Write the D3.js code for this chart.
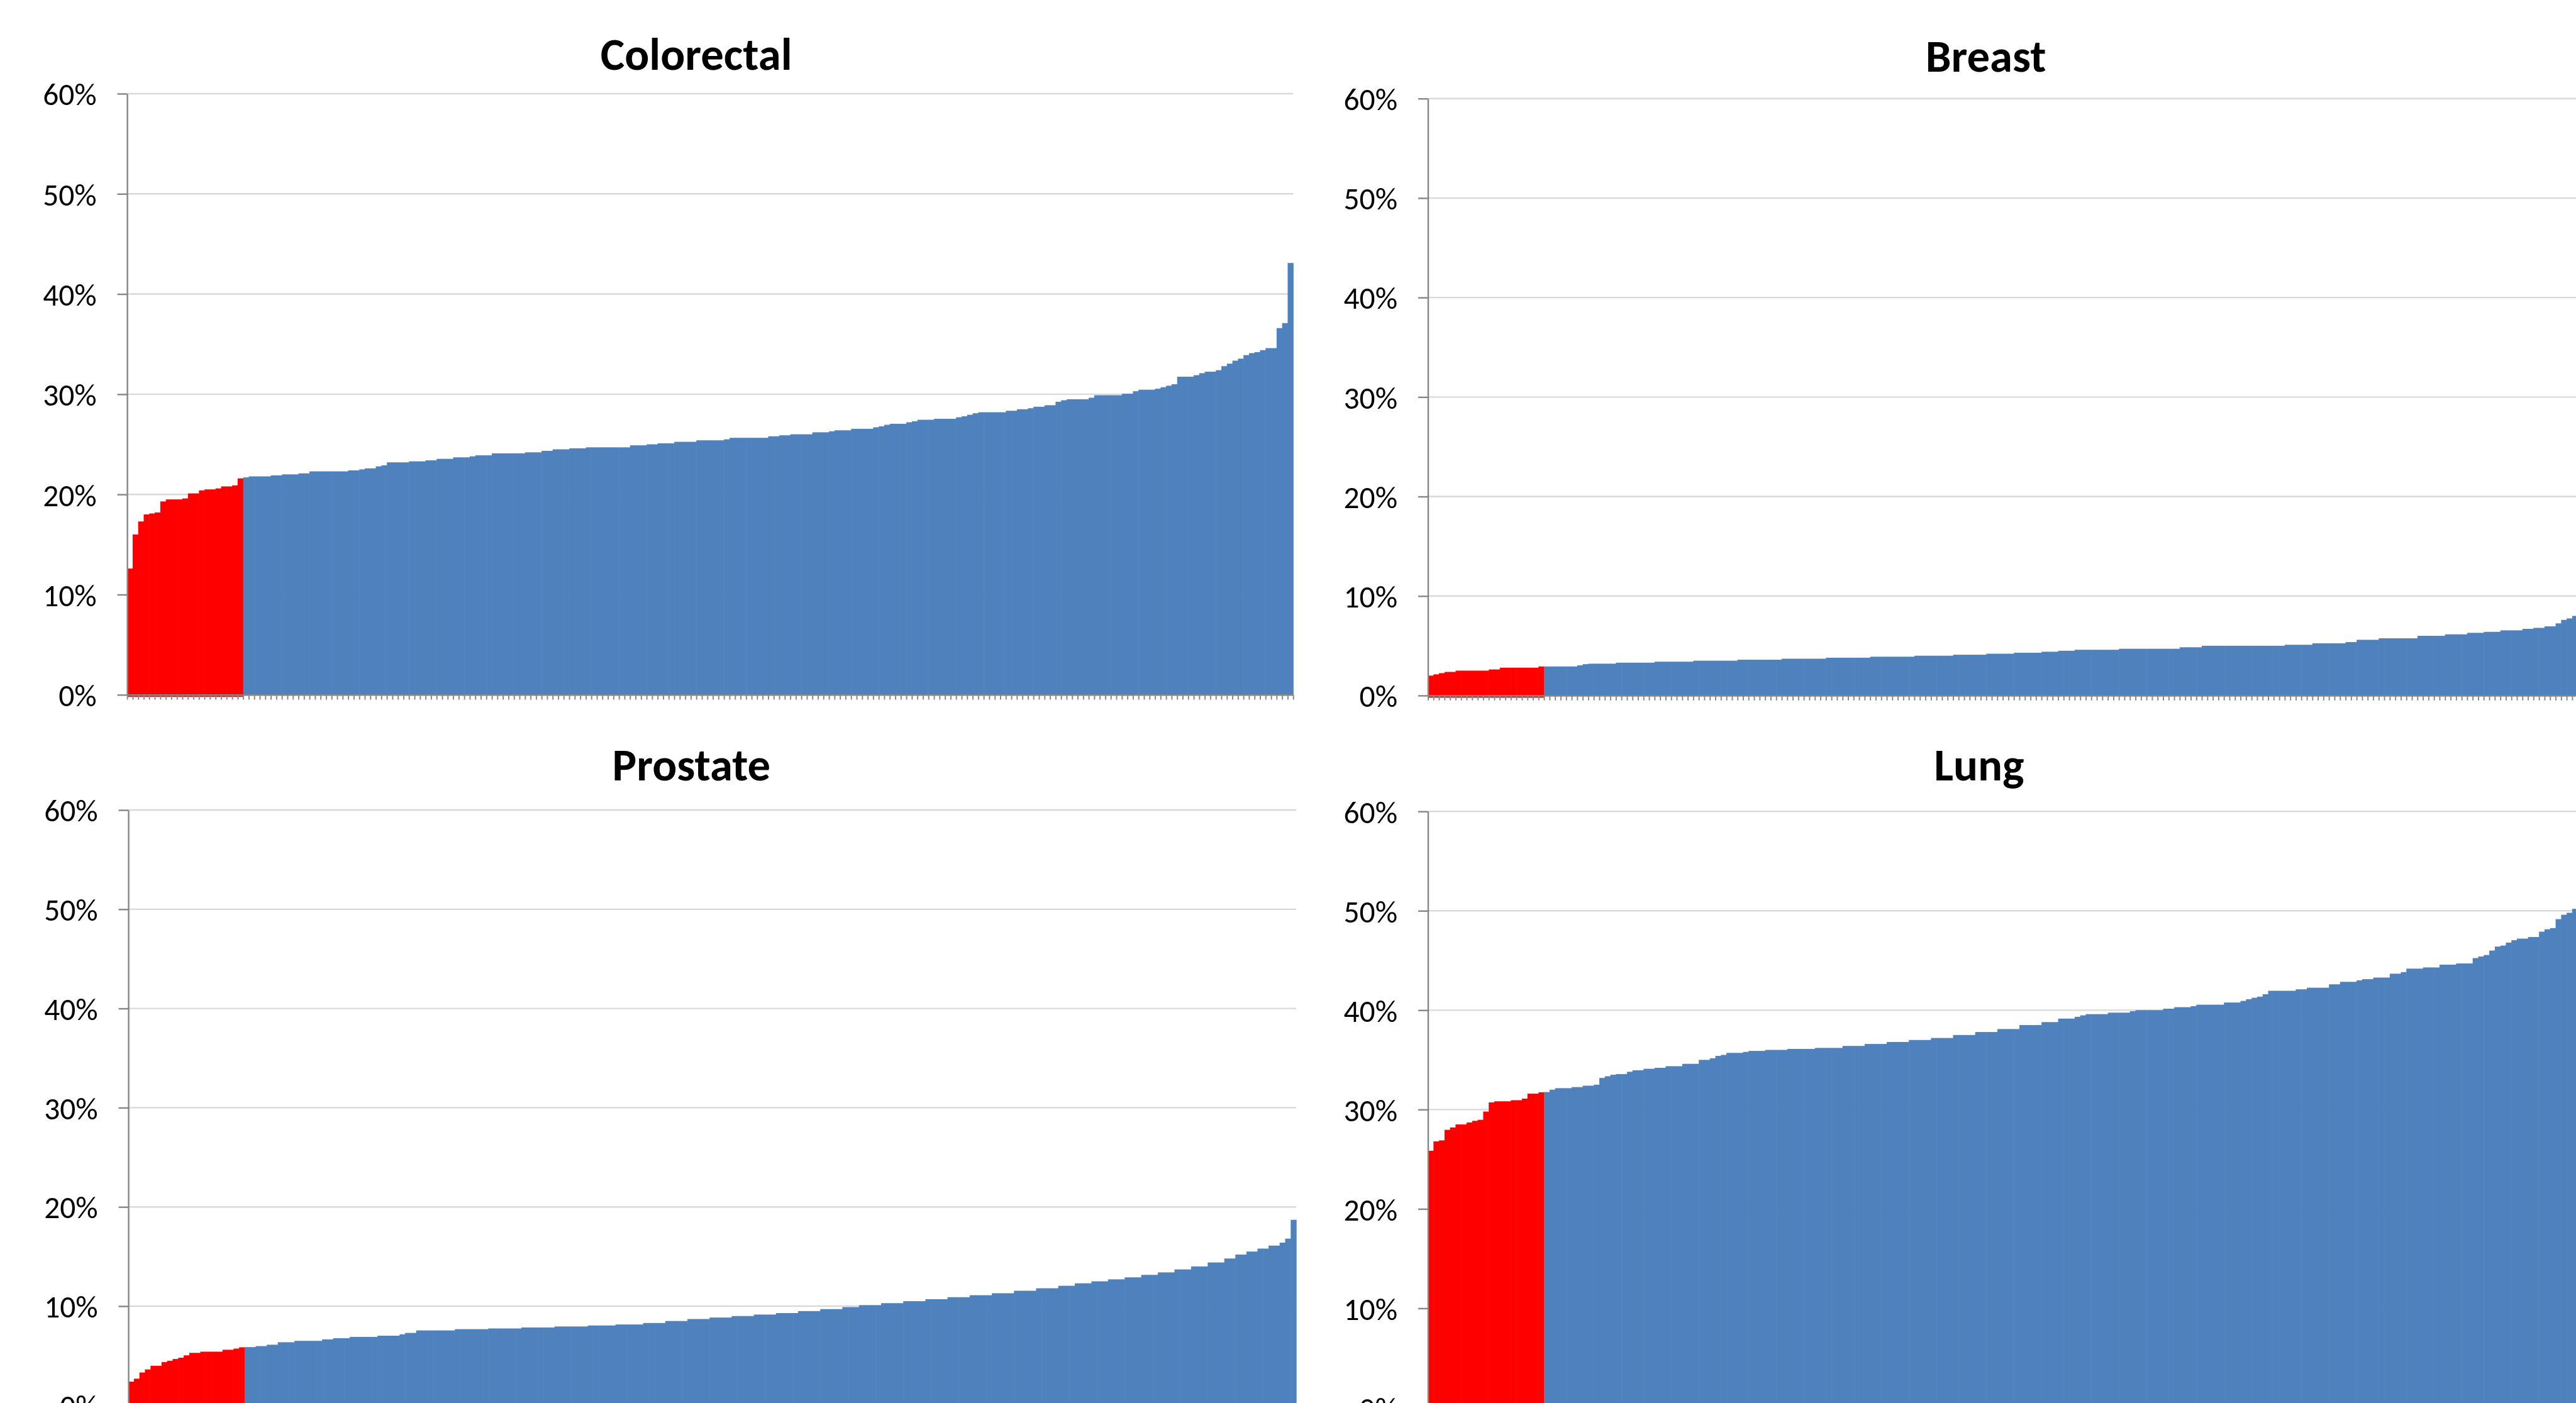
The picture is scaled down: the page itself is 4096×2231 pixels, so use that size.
<!DOCTYPE html>
<html>
<head>
<meta charset="utf-8">
<script src="https://cdn.jsdelivr.net/npm/d3@7"></script>
<style>
  html, body { margin: 0; padding: 0; background: #ffffff; overflow: hidden; }
  svg { display: block; }
</style>
</head>
<body>
<svg id="chart"></svg>
<script>
// Share of patients per area, sorted from lowest to highest (percent)
const colorectal = [
  12.6, 16.0, 17.3, 18.0, 18.1, 18.2, 19.3, 19.5, 19.5, 19.5,
  19.6, 20.1, 20.1, 20.4, 20.5, 20.5, 20.6, 20.8, 20.8, 20.9,
  21.6, 21.7, 21.8, 21.8, 21.8, 21.8, 21.9, 21.9, 22.0, 22.0,
  22.0, 22.1, 22.1, 22.3, 22.3, 22.3, 22.3, 22.3, 22.3, 22.3,
  22.4, 22.4, 22.5, 22.6, 22.6, 22.8, 22.9, 23.2, 23.2, 23.2,
  23.2, 23.3, 23.3, 23.3, 23.4, 23.4, 23.55, 23.55, 23.55, 23.7,
  23.7, 23.7, 23.8, 23.9, 23.9, 23.9, 24.1, 24.1, 24.1, 24.1,
  24.1, 24.1, 24.2, 24.2, 24.2, 24.35, 24.35, 24.5, 24.5, 24.5,
  24.6, 24.6, 24.6, 24.7, 24.7, 24.7, 24.7, 24.7, 24.7, 24.7,
  24.7, 24.9, 24.9, 24.9, 25.0, 25.0, 25.1, 25.1, 25.1, 25.25,
  25.25, 25.25, 25.25, 25.4, 25.4, 25.4, 25.4, 25.4, 25.5, 25.65,
  25.65, 25.65, 25.65, 25.65, 25.65, 25.65, 25.8, 25.8, 25.9, 25.9,
  26.0, 26.0, 26.0, 26.0, 26.2, 26.2, 26.2, 26.3, 26.4, 26.4,
  26.4, 26.55, 26.55, 26.55, 26.55, 26.7, 26.8, 26.95, 27.05, 27.05,
  27.05, 27.2, 27.3, 27.45, 27.45, 27.45, 27.55, 27.55, 27.55, 27.55,
  27.7, 27.8, 27.95, 28.1, 28.2, 28.2, 28.2, 28.2, 28.2, 28.35,
  28.35, 28.5, 28.5, 28.6, 28.75, 28.75, 28.9, 28.9, 29.25, 29.4,
  29.5, 29.5, 29.5, 29.5, 29.65, 29.9, 29.9, 29.9, 29.9, 29.9,
  30.05, 30.05, 30.3, 30.45, 30.45, 30.45, 30.55, 30.7, 30.85, 31.0,
  31.75, 31.75, 31.75, 31.9, 32.1, 32.25, 32.25, 32.4, 32.8, 33.05,
  33.35, 33.55, 33.9, 34.1, 34.2, 34.4, 34.6, 34.6, 36.6, 37.1,
  43.1
];

const breast = [
  2.0, 2.13, 2.25, 2.37, 2.37, 2.5, 2.5, 2.5, 2.5, 2.5,
  2.5, 2.62, 2.62, 2.8, 2.8, 2.8, 2.8, 2.8, 2.8, 2.8,
  2.92, 2.92, 2.92, 2.92, 2.92, 2.92, 2.92, 3.03, 3.15, 3.2,
  3.2, 3.2, 3.2, 3.2, 3.3, 3.3, 3.3, 3.3, 3.3, 3.3,
  3.3, 3.4, 3.4, 3.4, 3.4, 3.4, 3.4, 3.4, 3.5, 3.5,
  3.5, 3.5, 3.5, 3.5, 3.5, 3.5, 3.6, 3.6, 3.6, 3.6,
  3.6, 3.6, 3.6, 3.6, 3.7, 3.7, 3.7, 3.7, 3.7, 3.7,
  3.7, 3.7, 3.8, 3.8, 3.8, 3.8, 3.8, 3.8, 3.8, 3.8,
  3.9, 3.9, 3.9, 3.9, 3.9, 3.9, 3.9, 3.9, 4.0, 4.0,
  4.0, 4.0, 4.0, 4.0, 4.0, 4.1, 4.1, 4.1, 4.1, 4.1,
  4.1, 4.2, 4.2, 4.2, 4.2, 4.2, 4.3, 4.3, 4.3, 4.3,
  4.3, 4.4, 4.4, 4.4, 4.5, 4.5, 4.5, 4.6, 4.6, 4.6,
  4.6, 4.6, 4.6, 4.6, 4.6, 4.7, 4.7, 4.7, 4.7, 4.7,
  4.7, 4.7, 4.7, 4.7, 4.7, 4.7, 4.85, 4.85, 4.85, 4.85,
  5.0, 5.0, 5.0, 5.0, 5.0, 5.0, 5.0, 5.0, 5.0, 5.0,
  5.0, 5.0, 5.0, 5.0, 5.0, 5.1, 5.1, 5.1, 5.1, 5.1,
  5.25, 5.25, 5.25, 5.25, 5.25, 5.25, 5.37, 5.37, 5.6, 5.6,
  5.6, 5.6, 5.75, 5.75, 5.75, 5.75, 5.75, 5.75, 5.75, 6.0,
  6.0, 6.0, 6.0, 6.0, 6.15, 6.15, 6.15, 6.15, 6.3, 6.3,
  6.3, 6.4, 6.4, 6.4, 6.55, 6.55, 6.55, 6.55, 6.7, 6.7,
  6.8, 6.8, 6.95, 6.95, 7.25, 7.6, 7.75, 8.0, 8.3, 8.7,
  9.6
];

const prostate = [
  2.39, 2.69, 3.31, 3.62, 3.99, 3.99, 4.36, 4.49, 4.67, 4.8,
  5.04, 5.29, 5.29, 5.41, 5.41, 5.41, 5.41, 5.6, 5.6, 5.72,
  5.85, 5.87, 5.87, 5.97, 5.97, 6.11, 6.11, 6.36, 6.36, 6.36,
  6.5, 6.5, 6.5, 6.5, 6.5, 6.65, 6.65, 6.77, 6.77, 6.77,
  6.9, 6.9, 6.9, 6.9, 6.9, 7.02, 7.02, 7.02, 7.02, 7.16,
  7.3, 7.3, 7.55, 7.55, 7.55, 7.55, 7.55, 7.55, 7.55, 7.68,
  7.68, 7.68, 7.68, 7.68, 7.68, 7.75, 7.75, 7.75, 7.75, 7.75,
  7.75, 7.85, 7.85, 7.85, 7.85, 7.85, 7.85, 7.95, 7.95, 7.95,
  7.95, 7.95, 7.95, 8.05, 8.05, 8.05, 8.05, 8.05, 8.15, 8.15,
  8.15, 8.15, 8.15, 8.3, 8.3, 8.3, 8.3, 8.5, 8.5, 8.5,
  8.5, 8.7, 8.7, 8.7, 8.7, 8.85, 8.85, 8.85, 8.85, 9.0,
  9.0, 9.0, 9.0, 9.15, 9.15, 9.15, 9.15, 9.3, 9.3, 9.3,
  9.3, 9.5, 9.5, 9.5, 9.5, 9.7, 9.7, 9.7, 9.7, 9.9,
  9.9, 9.9, 10.1, 10.1, 10.1, 10.1, 10.3, 10.3, 10.3, 10.3,
  10.5, 10.5, 10.5, 10.5, 10.7, 10.7, 10.7, 10.7, 10.9, 10.9,
  10.9, 10.9, 11.1, 11.1, 11.1, 11.1, 11.3, 11.3, 11.3, 11.3,
  11.55, 11.55, 11.55, 11.55, 11.8, 11.8, 11.8, 11.8, 12.05, 12.05,
  12.05, 12.3, 12.3, 12.3, 12.5, 12.5, 12.5, 12.7, 12.7, 12.7,
  12.9, 12.9, 12.9, 13.15, 13.15, 13.15, 13.4, 13.4, 13.4, 13.7,
  13.7, 13.7, 14.0, 14.0, 14.0, 14.4, 14.4, 14.4, 14.8, 14.8,
  15.2, 15.2, 15.5, 15.5, 15.8, 15.8, 16.1, 16.1, 16.4, 16.8,
  18.7
];

const lung = [
  25.85, 26.8, 26.9, 27.96, 28.2, 28.5, 28.5, 28.7, 28.86, 28.97,
  29.8, 30.72, 30.83, 30.83, 30.83, 30.94, 30.94, 31.1, 31.6, 31.6,
  31.74, 31.76, 32.0, 32.15, 32.15, 32.15, 32.26, 32.26, 32.4, 32.4,
  32.5, 33.18, 33.35, 33.5, 33.57, 33.57, 33.8, 33.95, 33.95, 34.1,
  34.1, 34.2, 34.2, 34.36, 34.36, 34.36, 34.6, 34.6, 34.6, 35.0,
  35.0, 35.16, 35.4, 35.5, 35.7, 35.7, 35.7, 35.8, 35.9, 35.9,
  35.9, 36.0, 36.0, 36.0, 36.0, 36.1, 36.1, 36.1, 36.1, 36.1,
  36.2, 36.2, 36.2, 36.2, 36.2, 36.4, 36.4, 36.4, 36.4, 36.6,
  36.6, 36.6, 36.6, 36.8, 36.8, 36.8, 36.8, 37.0, 37.0, 37.0,
  37.0, 37.2, 37.2, 37.2, 37.2, 37.5, 37.5, 37.5, 37.5, 37.8,
  37.8, 37.8, 37.8, 38.1, 38.1, 38.1, 38.1, 38.5, 38.5, 38.5,
  38.5, 38.8, 38.8, 38.8, 39.15, 39.15, 39.15, 39.33, 39.48, 39.6,
  39.6, 39.6, 39.6, 39.75, 39.75, 39.75, 39.75, 39.9, 40.0, 40.0,
  40.0, 40.0, 40.0, 40.15, 40.15, 40.3, 40.3, 40.3, 40.4, 40.55,
  40.55, 40.55, 40.55, 40.55, 40.77, 40.77, 40.77, 40.93, 41.1, 41.25,
  41.36, 41.6, 41.95, 41.95, 41.95, 41.95, 41.95, 42.1, 42.1, 42.26,
  42.26, 42.26, 42.26, 42.6, 42.6, 42.85, 42.85, 42.85, 43.0, 43.12,
  43.12, 43.28, 43.28, 43.28, 43.67, 43.67, 43.83, 44.18, 44.18, 44.18,
  44.3, 44.3, 44.3, 44.58, 44.58, 44.58, 44.7, 44.7, 44.7, 45.24,
  45.4, 45.55, 46.0, 46.4, 46.5, 46.8, 47.04, 47.2, 47.2, 47.36,
  47.36, 47.9, 48.14, 48.26, 49.16, 49.6, 49.8, 50.2, 50.6, 51.5,
  54.0
];

const titles = ["Colorectal", "Breast", "Prostate", "Lung"];
const yTicks = [0, 10, 20, 30, 40, 50, 60];
const lowestTenthCount = 21;   // areas in the bottom tenth, drawn in red

const series = [colorectal, breast, prostate, lung];

// Page layout in chart units (the svg viewBox), scaled to the window
const W = 4225, H = 2301;
const frames = [
  { x0: 208.5, x1: 2121, yTop: 153.5,  yZero: 1139.5, tx: 1142, ty: 89 },
  { x0: 2342,  x1: 4255, yTop: 161.5,  yZero: 1140.7, tx: 3257, ty: 92 },
  { x0: 210.5, x1: 2126, yTop: 1328.5, yZero: 2305,   tx: 1134, ty: 1255 },
  { x0: 2342,  x1: 4255, yTop: 1330.8, yZero: 2308.8, tx: 3246, ty: 1255 }
];

const COLORS = { low: "#ff0000", rest: "#4f81bd", grid: "#d9d9d9", axis: "#868686" };
const FONT = "Calibri, Carlito, Lato, 'Open Sans', sans-serif";

const svg = d3.select("#chart")
  .attr("width", 4096)
  .attr("height", 2231)
  .attr("viewBox", `0 0 ${W} ${H}`)
  .style("background", "#ffffff");

series.forEach((values, k) => {
  const f = frames[k];
  const ranks = values.map((_, i) => i + 1);

  const x = d3.scaleBand().domain(ranks).range([f.x0, f.x1]).padding(0);
  const edges = d3.scaleLinear().domain([0, values.length]).range([f.x0, f.x1]);
  const y = d3.scaleLinear().domain([0, 60]).range([f.yZero, f.yTop]);

  const g = svg.append("g").attr("class", "panel");

  // horizontal gridlines
  g.append("g").selectAll("line")
    .data(yTicks.filter(t => t > 0))
    .join("line")
      .attr("x1", f.x0).attr("x2", f.x1)
      .attr("y1", d => y(d)).attr("y2", d => y(d))
      .attr("stroke", COLORS.grid)
      .attr("stroke-width", 2.5);

  // bars, no gaps between neighbours; the red ones sit slightly over the axis line
  g.append("g").selectAll("rect")
    .data(values)
    .join("rect")
      .attr("x", (d, i) => x(ranks[i]))
      .attr("width", x.bandwidth() + 0.6)
      .attr("y", d => y(d))
      .attr("height", (d, i) => y(0) - y(d) + (i < lowestTenthCount ? 3.5 : 0))
      .attr("fill", (d, i) => i < lowestTenthCount ? COLORS.low : COLORS.rest);

  // value axis
  const yAxis = d3.axisLeft(y)
    .tickValues(yTicks)
    .tickSize(16)
    .tickSizeOuter(0)
    .tickPadding(34)
    .tickFormat(d => d + "%");
  const ya = g.append("g")
    .attr("transform", `translate(${f.x0},0)`)
    .call(yAxis);
  ya.select(".domain").attr("stroke", COLORS.axis).attr("stroke-width", 2.5);
  ya.selectAll(".tick line").attr("stroke", COLORS.axis).attr("stroke-width", 2.5);
  ya.selectAll(".tick text")
    .attr("fill", "#000000")
    .attr("dy", "0.36em")
    .style("font-family", FONT)
    .style("font-size", "51px");

  // category axis: one small tick at every bar boundary
  const xAxis = d3.axisBottom(edges)
    .tickValues(d3.range(values.length + 1))
    .tickSize(8)
    .tickSizeOuter(0)
    .tickFormat("");
  const xa = g.append("g")
    .attr("transform", `translate(0,${f.yZero})`)
    .call(xAxis);
  xa.select(".domain").attr("stroke", COLORS.axis).attr("stroke-width", 2.5);
  xa.selectAll(".tick line").attr("stroke", COLORS.axis).attr("stroke-width", 2);

  // panel title
  g.append("text")
    .attr("x", f.tx)
    .attr("y", f.ty)
    .attr("text-anchor", "middle")
    .attr("dominant-baseline", "central")
    .style("font-family", FONT)
    .style("font-weight", "700")
    .style("font-size", "75px")
    .attr("fill", "#000000")
    .text(titles[k]);
});
</script>
</body>
</html>
